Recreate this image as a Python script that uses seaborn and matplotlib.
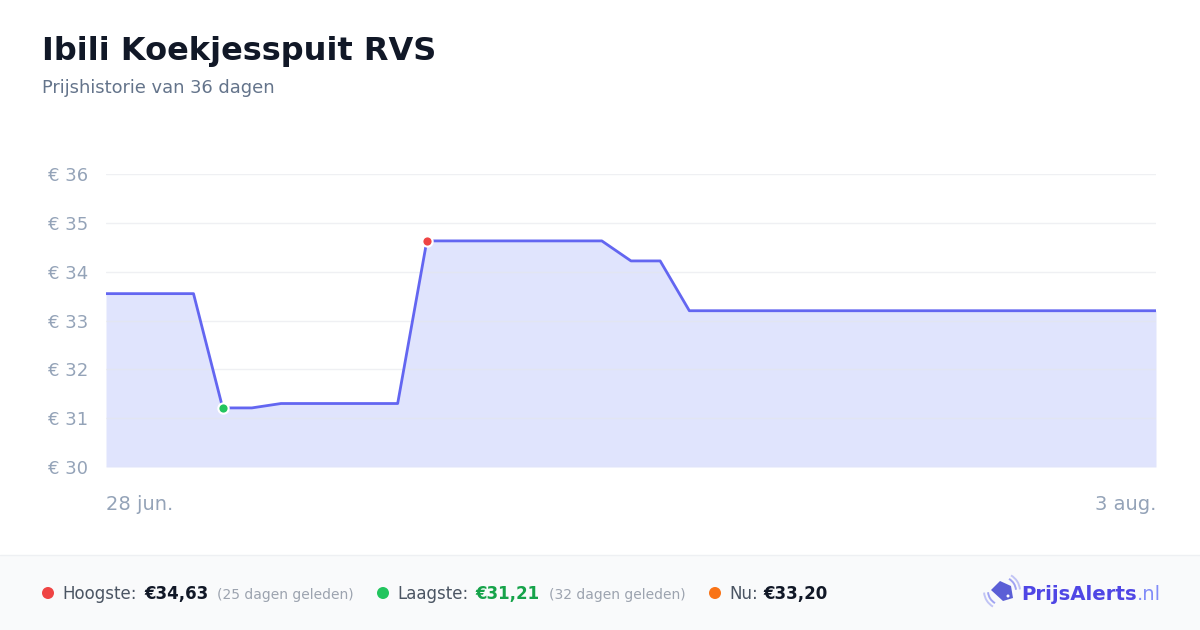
import matplotlib.pyplot as plt
import seaborn as sns
import pandas as pd
from matplotlib.patches import Rectangle, Polygon, Circle, Arc

# price history: day index (0 = 28 jun, 36 = 3 aug) and price in euro
days = [0, 3, 4, 5, 6, 10, 11, 17, 18, 19, 20, 36]
prices = [33.55, 33.55, 31.21, 31.21, 31.30, 31.30, 34.63, 34.63, 34.22, 34.22, 33.20, 33.20]
y_ticks = [30, 31, 32, 33, 34, 35, 36]
x_labels = ['28 jun.', '3 aug.']
title = 'Ibili Koekjesspuit RVS'
subtitle = 'Prijshistorie van 36 dagen'

df = pd.DataFrame({'day': days, 'price': prices})

sns.set_style('white')
plt.rcParams['font.family'] = ['DejaVu Sans']

fig = plt.figure(figsize=(12, 6.3), dpi=100)
fig.patch.set_facecolor('white')

W, H = 1200, 630

# overlay in pixel coordinates for header, footer and logo
ov = fig.add_axes([0, 0, 1, 1])
ov.set_xlim(0, W)
ov.set_ylim(H, 0)
ov.axis('off')
ov.set_zorder(0)

ov.add_patch(Rectangle((0, 555), W, H - 555, facecolor='#f9fafb', edgecolor='none'))
ov.plot([0, W], [555, 555], color='#eef0f3', lw=1)

# main chart
ax = fig.add_axes([106 / W, 1 - 467 / H, 1050 / W, 293 / H])
ax.set_facecolor('none')
ax.set_zorder(1)

ax.fill_between(df['day'], df['price'], 30, color='#e0e4fd', zorder=1, lw=0)
for t in y_ticks:
    ax.axhline(t, color='#e5e7eb', lw=1, alpha=0.6, zorder=2)
sns.lineplot(data=df, x='day', y='price', color='#6366f1', lw=2, ax=ax, zorder=3)

imax = prices.index(max(prices))
imin = prices.index(min(prices))
ax.scatter([days[imax]], [prices[imax]], s=55, color='#ef4444', edgecolor='white', lw=1.5, zorder=4)
ax.scatter([days[imin]], [prices[imin]], s=55, color='#22c55e', edgecolor='white', lw=1.5, zorder=4)

ax.set_xlim(0, 36)
ax.set_ylim(30, 36)
ax.set_yticks(y_ticks)
ax.set_yticklabels([f'€ {t}' for t in y_ticks])
ax.set_xticks([0, 36])
ax.set_xticklabels(x_labels)
lbls = ax.get_xticklabels()
lbls[0].set_ha('left')
lbls[1].set_ha('right')
ax.tick_params(axis='y', length=0, pad=13, labelsize=13, labelcolor='#94a3b8')
ax.tick_params(axis='x', length=0, pad=20, labelsize=14, labelcolor='#94a3b8')
ax.set_xlabel('')
ax.set_ylabel('')
for s in ax.spines.values():
    s.set_visible(False)

# header
ov.text(42, 60, title, fontsize=23, fontweight='bold', color='#111827', va='baseline')
ov.text(42, 93, subtitle, fontsize=12.9, color='#64748b', va='baseline')

# footer stats
base = 599
def dot(px, color):
    ov.add_patch(Circle((px, 593), 6, facecolor=color, edgecolor='none'))

dot(48, '#ef4444')
ov.text(62, base, 'Hoogste:', fontsize=12, color='#4b5563', va='baseline')
ov.text(144, base, '€34,63', fontsize=12, fontweight='bold', color='#111827', va='baseline')
ov.text(217, base, '(25 dagen geleden)', fontsize=10, color='#9ca3af', va='baseline')
dot(383, '#22c55e')
ov.text(397, base, 'Laagste:', fontsize=12, color='#4b5563', va='baseline')
ov.text(475, base, '€31,21', fontsize=12, fontweight='bold', color='#16a34a', va='baseline')
ov.text(549, base, '(32 dagen geleden)', fontsize=10, color='#9ca3af', va='baseline')
dot(715, '#f97316')
ov.text(729, base, 'Nu:', fontsize=12, color='#4b5563', va='baseline')
ov.text(763, base, '€33,20', fontsize=12, fontweight='bold', color='#111827', va='baseline')

# logo: tag with signal arcs
tag = [(991, 590), (1000, 581), (1011, 586), (1013, 598), (1003, 601)]
ov.add_patch(Polygon(tag, closed=True, facecolor='#5b5fd6', edgecolor='none', joinstyle='round'))
ov.add_patch(Circle((1008, 596), 1.5, facecolor='white', edgecolor='none'))
for r, a in ((14, 0.8), (18, 0.5)):
    ov.add_patch(Arc((1002, 591), 2 * r, 2 * r, theta1=300, theta2=355, color='#8b8ff0', lw=1.4, alpha=a))
    ov.add_patch(Arc((1002, 591), 2 * r, 2 * r, theta1=120, theta2=175, color='#8b8ff0', lw=1.4, alpha=a))
ov.text(1021, 600, 'PrijsAlerts', fontsize=14.2, fontweight='bold', color='#4f46e5', va='baseline')
ov.text(1137, 600, '.nl', fontsize=14.2, color='#818cf8', va='baseline')

fig.savefig('out.png', dpi=100, facecolor=fig.get_facecolor())
